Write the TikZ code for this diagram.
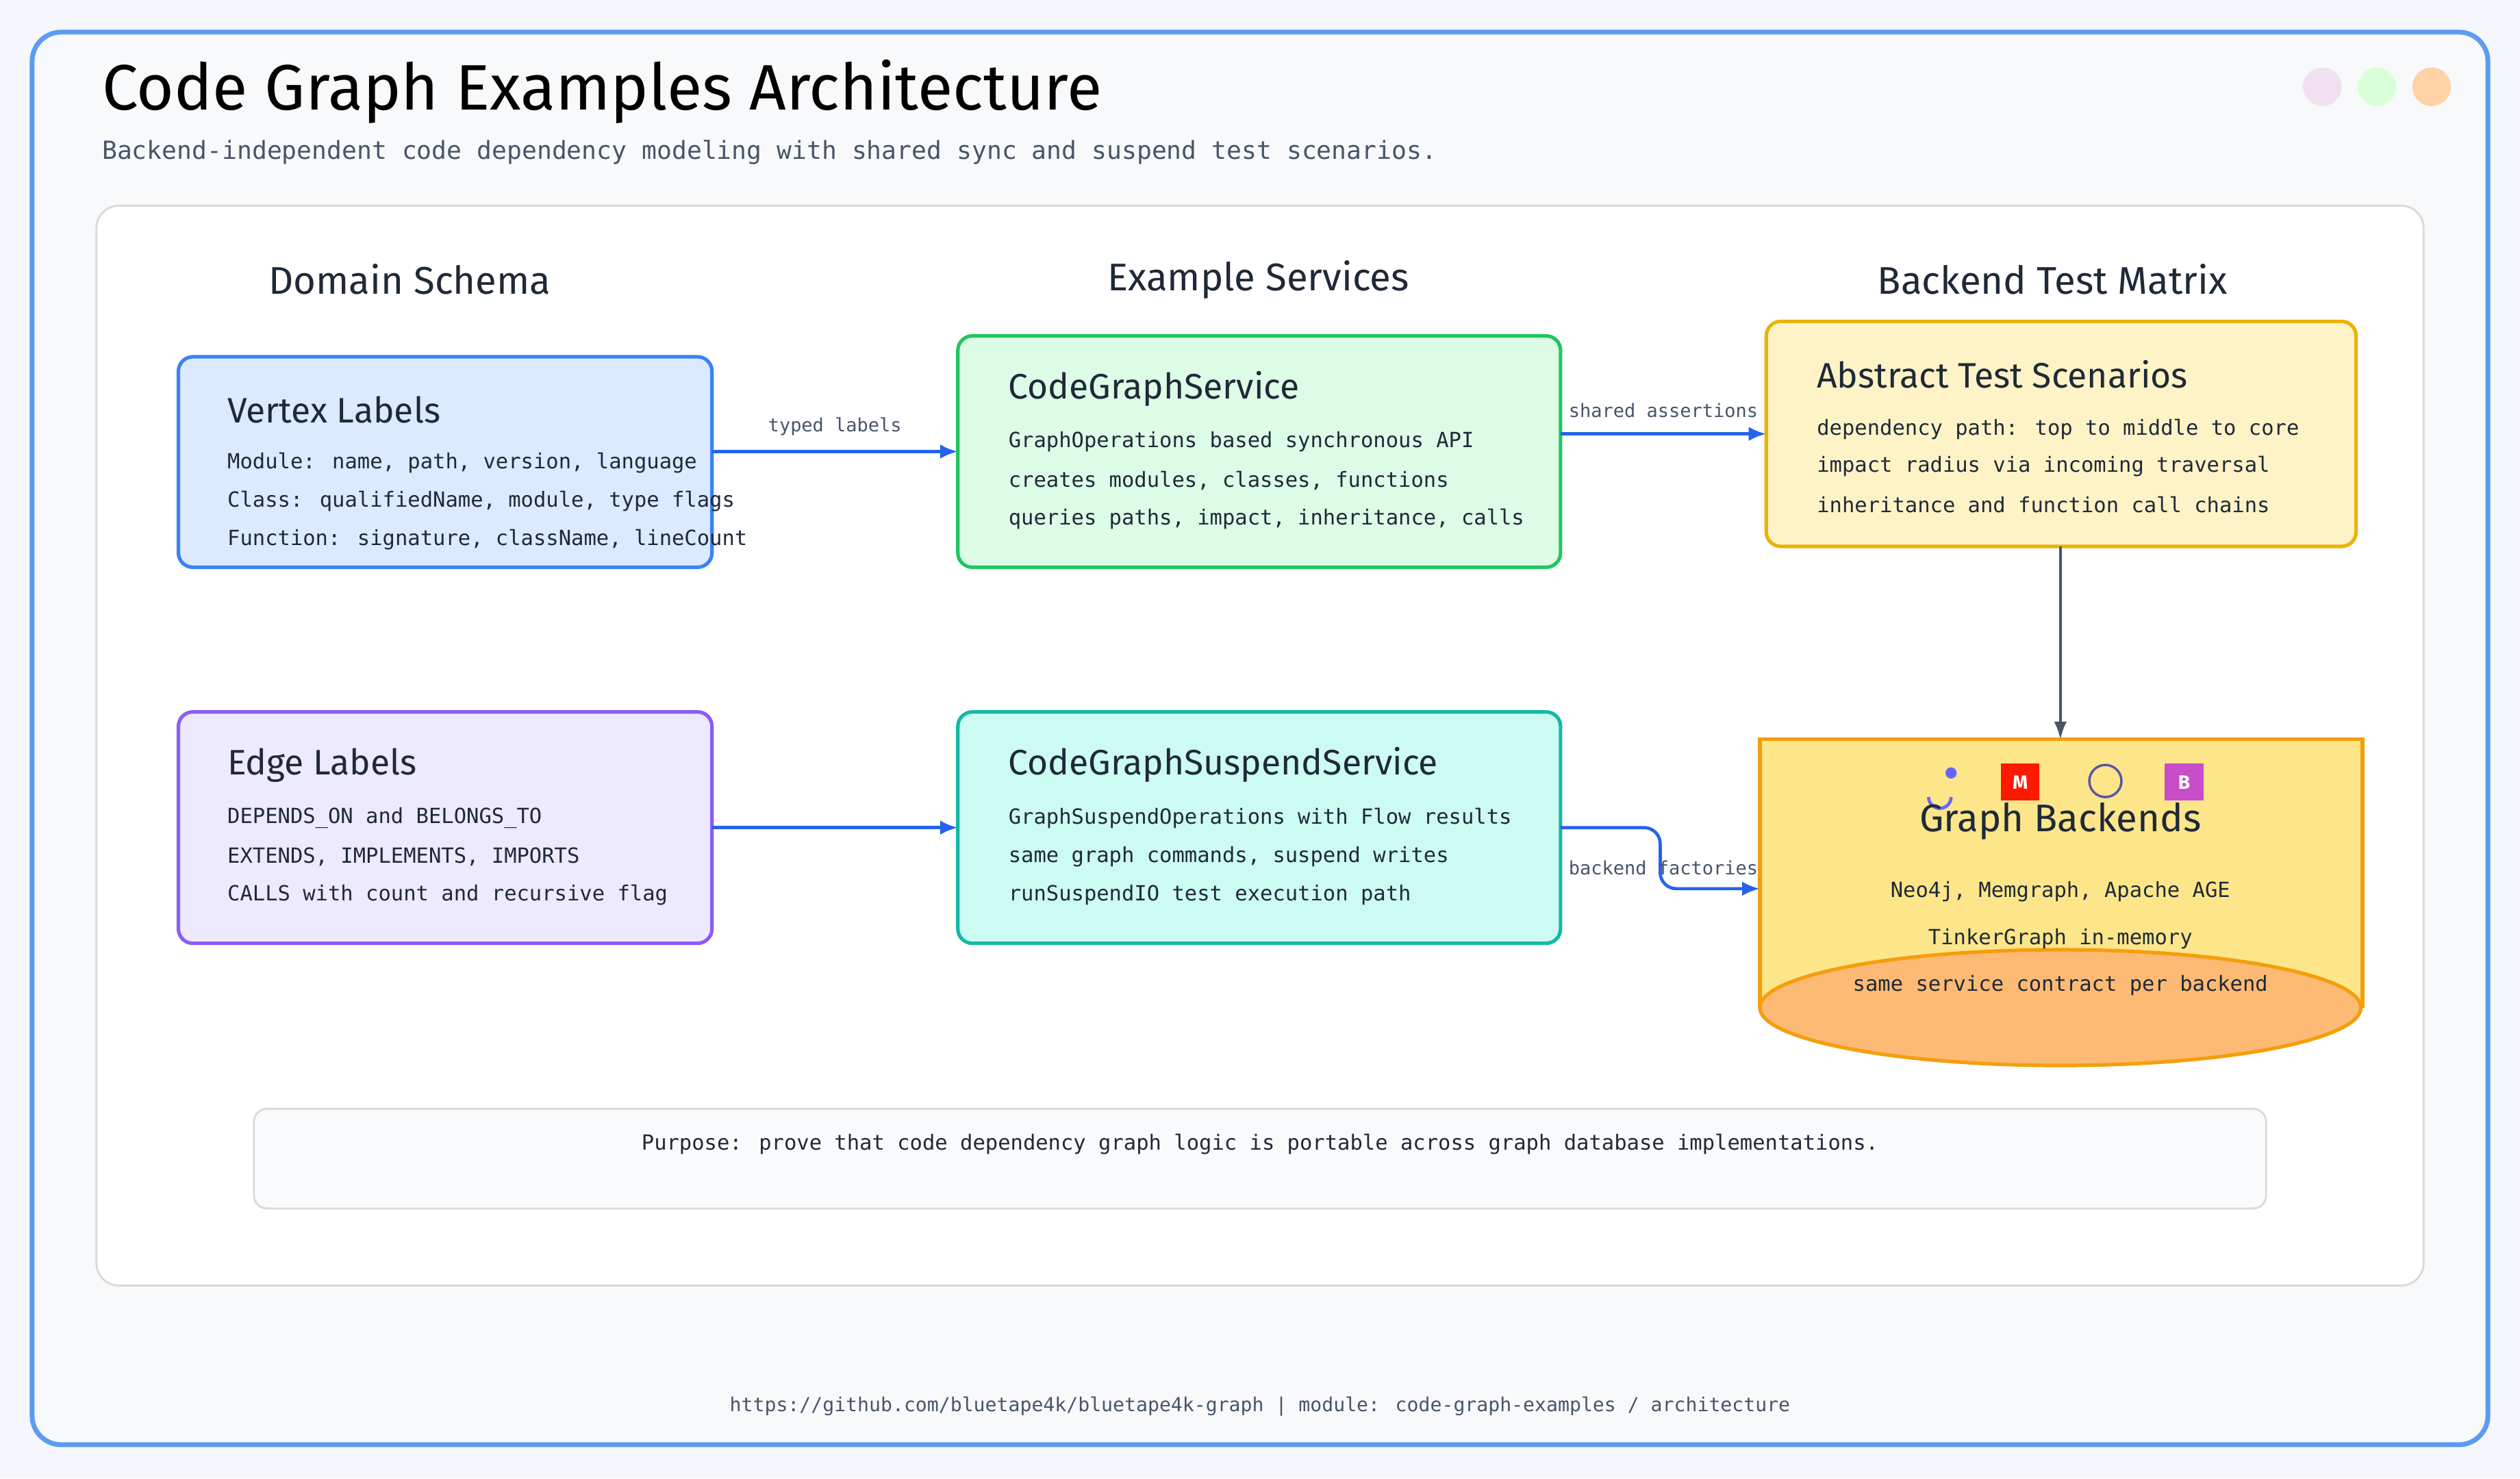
\documentclass[tikz,border=0pt]{standalone}
\usepackage{fontspec}
\setmainfont{Fira Sans}
\newfontfamily\mono{DejaVu Sans Mono}
\usetikzlibrary{arrows.meta}
\definecolor{frame}{HTML}{5B9CF0}
\definecolor{ink}{HTML}{1F2937}
\definecolor{sub}{HTML}{475569}
\definecolor{bgout}{HTML}{F8F9FB}
\definecolor{bgpage}{HTML}{F5F7FC}
\definecolor{vfill}{HTML}{DBEAFE}\definecolor{vdraw}{HTML}{3B82F6}
\definecolor{efill}{HTML}{EDE9FE}\definecolor{edraw}{HTML}{8B5CF6}
\definecolor{gfill}{HTML}{DCFCE7}\definecolor{gdraw}{HTML}{22C55E}
\definecolor{tfill}{HTML}{CCFBF1}\definecolor{tdraw}{HTML}{14B8A6}
\definecolor{yfill}{HTML}{FEF3C7}\definecolor{ydraw}{HTML}{EAB308}
\definecolor{bfill}{HTML}{FDE68A}\definecolor{bdraw}{HTML}{F59E0B}
\definecolor{ofill}{HTML}{FDBA74}
\definecolor{arrc}{HTML}{2563EB}
\definecolor{pfill}{HTML}{F8FAFC}
\begin{document}
\begin{tikzpicture}[x=1pt,y=-1pt,
  box/.style={draw,line width=2.2pt,rounded corners=9pt},
  ttl/.style={anchor=west,font=\fontsize{22}{24}\selectfont\color{ink}},
  ln/.style={anchor=west,font=\mono\fontsize{13}{15}\selectfont\color{ink}},
  hdr/.style={font=\fontsize{24}{26}\selectfont\color{ink}},
  lbl/.style={font=\mono\fontsize{11.5}{13}\selectfont\color{sub},fill=white,inner sep=1pt},
  arr/.style={draw=arrc,line width=2pt,-{Latex[length=11pt,width=9pt]}}]
\useasboundingbox (0,0) rectangle (1568,920);
\fill[bgpage] (0,0) rectangle (1568,920);
\draw[frame,line width=3pt,fill=bgout,rounded corners=18pt] (20,20) rectangle (1548,899);
\node[anchor=west,font=\fontsize{40}{44}\selectfont\color{black}] (title) at (60,57) {Code Graph Examples Architecture};
\node[anchor=west,font=\mono\fontsize{15.5}{18}\selectfont\color{sub}] (subt) at (60,95) {Backend-independent code dependency modeling with shared sync and suspend test scenarios.};
\fill[violet!12] (1445,54) circle (12);
\fill[green!15] (1479,54) circle (12);
\fill[orange!35] (1513,54) circle (12);
\draw[gray!30,line width=1.2pt,fill=white,rounded corners=14pt] (60,128) rectangle (1508,800);
\node[hdr] (h1) at (255,174) {Domain Schema};
\node[hdr] (h2) at (783,174) {Example Services};
\node[hdr] (h3) at (1277,174) {Backend Test Matrix};
% Vertex
\draw[box,draw=vdraw,fill=vfill] (111,222) rectangle (443,353);
\coordinate (v) at (443,281);
\node[ttl] at (138,255) {Vertex Labels};
\node[ln] at (138,288) {Module: name, path, version, language};
\node[ln] at (138,312) {Class: qualifiedName, module, type flags};
\node[ln] at (138,336) {Function: signature, className, lineCount};
% Edge
\draw[box,draw=edraw,fill=efill] (111,443) rectangle (443,587);
\coordinate (e) at (443,515);
\node[ttl] at (138,476) {Edge Labels};
\node[ln] at (138,509) {DEPENDS\_ON and BELONGS\_TO};
\node[ln] at (138,533) {EXTENDS, IMPLEMENTS, IMPORTS};
\node[ln] at (138,557) {CALLS with count and recursive flag};
% CGS
\draw[box,draw=gdraw,fill=gfill] (596,209) rectangle (971,353);
\node[ttl] at (624,242) {CodeGraphService};
\node[ln] at (624,275) {GraphOperations based synchronous API};
\node[ln] at (624,299) {creates modules, classes, functions};
\node[ln] at (624,323) {queries paths, impact, inheritance, calls};
% Suspend
\draw[box,draw=tdraw,fill=tfill] (596,443) rectangle (971,587);
\node[ttl] at (624,476) {CodeGraphSuspendService};
\node[ln] at (624,509) {GraphSuspendOperations with Flow results};
\node[ln] at (624,533) {same graph commands, suspend writes};
\node[ln] at (624,557) {runSuspendIO test execution path};
% ATS
\draw[box,draw=ydraw,fill=yfill] (1099,200) rectangle (1466,340);
\node[ttl] at (1127,233) {Abstract Test Scenarios};
\node[ln] at (1127,267) {dependency path: top to middle to core};
\node[ln] at (1127,290) {impact radius via incoming traversal};
\node[ln] at (1127,314) {inheritance and function call chains};
% Backends
\draw[bdraw,line width=2.2pt,fill=bfill] (1095,627) -- (1095,460) -- (1470,460) -- (1470,627);
\draw[bdraw,line width=2.2pt,fill=ofill] (1282,627) ellipse (187 and 36);
\fill[blue!60] (1214,481) circle (3.5); \draw[blue!60,line width=2pt] (1200,496) arc (180:0:7);
\fill[red!80!orange] (1245,475) rectangle (1269,498);
\node[font=\bfseries\fontsize{12}{12}\selectfont,white] at (1257,487) {M};
\draw[gray!70!blue,line width=1.5pt] (1310,486) circle (10);
\fill[violet!60!magenta!70] (1347,475) rectangle (1371,498);
\node[font=\bfseries\fontsize{12}{12}\selectfont,white] at (1359,487) {B};
\node[font=\fontsize{24}{26}\selectfont\color{ink}] at (1282,511) {Graph Backends};
\node[font=\mono\fontsize{13}{15}\selectfont\color{ink}] at (1282,555) {Neo4j, Memgraph, Apache AGE};
\node[font=\mono\fontsize{13}{15}\selectfont\color{ink}] at (1282,584) {TinkerGraph in-memory};
\node[font=\mono\fontsize{13}{15}\selectfont\color{ink}] at (1282,613) {same service contract per backend};
% purpose
\draw[gray!30,line width=1.2pt,fill=pfill,rounded corners=8pt] (158,690) rectangle (1410,752);
\node[font=\mono\fontsize{13}{15}\selectfont\color{ink}] at (784,712) {Purpose: prove that code dependency graph logic is portable across graph database implementations.};
\node[font=\mono\fontsize{12}{14}\selectfont\color{sub}] at (784,875) {https://github.com/bluetape4k/bluetape4k-graph | module: code-graph-examples / architecture};
% arrows
\draw[arr] (v) -- (596,281) node[lbl,midway,above=8pt] {typed labels};
\draw[arr] (971,270) -- (1099,270) node[lbl,midway,above=8pt] {shared assertions};
\draw[arr] (e) -- (596,515);
\draw[arr,rounded corners=10pt] (971,515) -- (1033,515) -- (1033,553) -- (1095,553);
\node[lbl,fill=none] at (1035,540) {backend factories};
\draw[sub,line width=1.5pt,-{Latex[length=11pt,width=8pt]}] (1282,340) -- (1282,460);
\end{tikzpicture}
\end{document}
